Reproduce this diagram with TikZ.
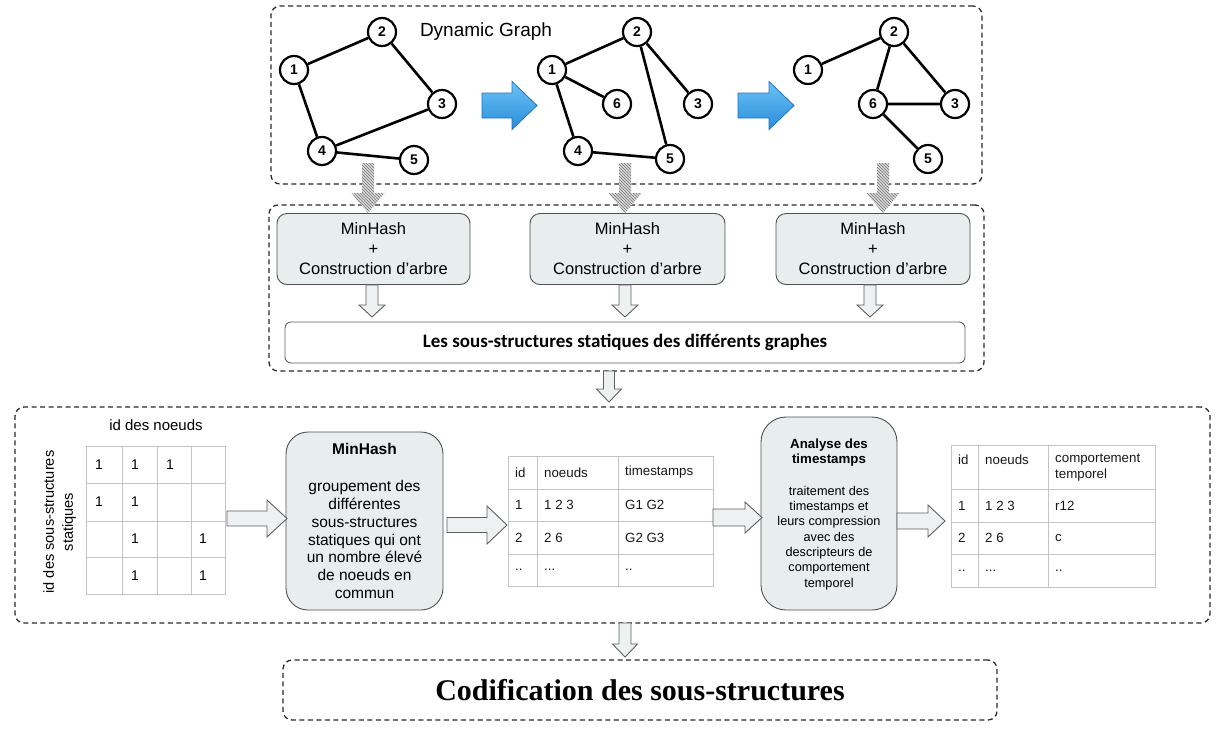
\documentclass[tikz,border=0pt]{standalone}
\usepackage{fontspec}
\setmainfont{Liberation Sans}
\newfontfamily\carl{Carlito}
\newfontfamily\lserif{Liberation Serif}
\usetikzlibrary{patterns,calc}
\definecolor{boxfill}{HTML}{E8EDED}
\definecolor{boxline}{HTML}{505050}
\definecolor{arrfill}{HTML}{EDF1F1}
\definecolor{arrline}{HTML}{606060}
\definecolor{gridc}{HTML}{C4C4C4}
\definecolor{dashc}{HTML}{2A2A2A}
\definecolor{blueA}{HTML}{6CC4F4}
\definecolor{blueB}{HTML}{2A8CDA}
\definecolor{blueL}{HTML}{1F74C4}
\newcommand{\blkdown}[6]{%
 \path[#1] let \p1=(#2), \p2=(#3) in
 (\x2-#4pt,\y1) -- (\x2+#4pt,\y1) -- (\x2+#4pt,\y2+#6pt) -- (\x2+#5pt,\y2+#6pt)
 -- (\x2,\y2) -- (\x2-#5pt,\y2+#6pt) -- (\x2-#4pt,\y2+#6pt) -- cycle;}
\newcommand{\blkright}[6]{%
 \path[#1] let \p1=(#2), \p2=(#3) in
 (\x1,\y1+#4pt) -- (\x2-#6pt,\y1+#4pt) -- (\x2-#6pt,\y1+#5pt) -- (\x2,\y1)
 -- (\x2-#6pt,\y1-#5pt) -- (\x2-#6pt,\y1-#4pt) -- (\x1,\y1-#4pt) -- cycle;}
\tikzset{
 gnode/.style={circle, draw, line width=2.2pt, minimum size=28pt, inner sep=0pt,
   font=\bfseries\fontsize{14}{14}\selectfont, fill=white},
 gedge/.style={line width=2.6pt},
 dbox/.style={draw=dashc, dash pattern=on 5pt off 3.5pt, line width=1.3pt, rounded corners=9pt},
 mhbox/.style={draw=boxline, fill=boxfill, rounded corners=10pt, line width=0.9pt, inner sep=0pt},
 bigbox/.style={draw=boxline, fill=boxfill, line width=0.9pt, inner sep=0pt},
 whitearrow/.style={fill=arrfill, draw=arrline, line width=0.9pt},
 hatcharrow/.style={preaction={fill=gray!28}, pattern=north west lines, pattern color=black!55},
 bluearrow/.style={top color=blueA, bottom color=blueB, draw=blueL, line width=0.8pt},
 tab/.style={draw=gridc, line width=0.8pt, inner sep=0pt},
 tline/.style={draw=gridc, line width=0.8pt},
 ttext/.style={font=\fontsize{13.3}{16}\selectfont, anchor=west, inner sep=0pt, text=black!90},
 mtext/.style={font=\fontsize{14}{16}\selectfont, inner sep=0pt},
}
\begin{document}
\begin{tikzpicture}[x=1pt,y=1pt]
\useasboundingbox[fill=white] (0,0) rectangle (1225,-742);
% ---------- top dashed box ----------
\node[dbox, minimum width=711pt, minimum height=178pt, inner sep=0pt] (top) at (626.5,-95) {};
\node[font=\fontsize{19}{19}\selectfont] (dg) at (486,-32) {Dynamic Graph};
% graph 1
\node[gnode] (a1) at (294,-70) {1};
\node[gnode] (a2) at (382,-32) {2};
\node[gnode] (a3) at (442,-104) {3};
\node[gnode] (a4) at (322,-151) {4};
\node[gnode] (a5) at (414,-160) {5};
\draw[gedge] (a1) -- (a2) (a2) -- (a3) (a1) -- (a4) (a4) -- (a3) (a4) -- (a5);
% graph 2
\node[gnode] (b1) at (552,-70) {1};
\node[gnode] (b2) at (637,-32) {2};
\node[gnode] (b6) at (617,-104) {6};
\node[gnode] (b3) at (698,-104) {3};
\node[gnode] (b4) at (578,-151) {4};
\node[gnode] (b5) at (670,-159) {5};
\draw[gedge] (b1) -- (b2) (b1) -- (b6) (b1) -- (b4) (b4) -- (b5) (b2) -- (b5) (b2) -- (b3);
% graph 3
\node[gnode] (c1) at (808,-70) {1};
\node[gnode] (c2) at (894,-32) {2};
\node[gnode] (c6) at (873,-104) {6};
\node[gnode] (c3) at (955,-104) {3};
\node[gnode] (c5) at (928,-159) {5};
\draw[gedge] (c1) -- (c2) (c2) -- (c6) (c2) -- (c3) (c6) -- (c3) (c6) -- (c5);
% blue arrows
\coordinate (ba1s) at (482,-105.5); \coordinate (ba1e) at (537,-105.5);
\coordinate (ba2s) at (738,-105.5); \coordinate (ba2e) at (794,-105.5);
\blkright{bluearrow}{ba1s}{ba1e}{12.5}{24}{25}
\blkright{bluearrow}{ba2s}{ba2e}{12.5}{24}{25}
% ---------- second dashed box ----------
\node[dbox, minimum width=715pt, minimum height=166pt, inner sep=0pt] (mid) at (626.5,-288) {};
\node[mhbox, minimum width=193pt, minimum height=71pt, align=center,
  font=\fontsize{16.5}{20}\selectfont] (mc1) at (373.5,-249) {MinHash\\+\\Construction d'arbre};
\node[mhbox, minimum width=195pt, minimum height=71pt, align=center,
  font=\fontsize{16.5}{20}\selectfont] (mc2) at (627.5,-249) {MinHash\\+\\Construction d'arbre};
\node[mhbox, minimum width=194pt, minimum height=71pt, align=center,
  font=\fontsize{16.5}{20}\selectfont] (mc3) at (873,-249) {MinHash\\+\\Construction d'arbre};
\node[draw=arrline, fill=white, line width=0.9pt, rounded corners=6pt, minimum width=680pt,
  minimum height=41pt, inner sep=0pt, font=\carl\bfseries\fontsize{19}{20}\selectfont]
  (lss) at (625,-342.5) {Les sous-structures statiques des différents graphes};
% hatched arrows
\coordinate (h1s) at (368,-163); \coordinate (h1e) at (368,-213);
\coordinate (h2s) at (625,-163); \coordinate (h2e) at (625,-213);
\coordinate (h3s) at (883,-163); \coordinate (h3e) at (883,-213);
\blkdown{hatcharrow}{h1s}{h1e}{6}{16.5}{20}
\blkdown{hatcharrow}{h2s}{h2e}{6}{16.5}{20}
\blkdown{hatcharrow}{h3s}{h3e}{6}{16.5}{20}
% small white arrows
\coordinate (w1e) at (372,-317); \coordinate (w2e) at (625,-317); \coordinate (w3e) at (870,-317);
\blkdown{whitearrow}{mc1.south}{w1e}{6}{13}{12}
\blkdown{whitearrow}{mc2.south}{w2e}{6}{13}{12}
\blkdown{whitearrow}{mc3.south}{w3e}{6}{13}{12}
% arrow to third box
\coordinate (m2s) at (609,-371); \coordinate (m2e) at (609,-402);
\blkdown{whitearrow}{m2s}{m2e}{5.5}{12.5}{13}
% ---------- third dashed box ----------
\node[dbox, minimum width=1195pt, minimum height=216pt, inner sep=0pt] (bot) at (612.5,-515) {};
\node[font=\fontsize{15}{15}\selectfont] (idn) at (156,-425) {id des noeuds};
\node[rotate=90, align=center, font=\fontsize{14.6}{19}\selectfont] (vl) at (59.5,-522)
  {id des sous-structures\\statiques};
% matrix
\node[tab, minimum width=139pt, minimum height=148pt] (mat) at (155.5,-520) {};
\draw[tline] (122,-446) -- (122,-594) (157,-446) -- (157,-594) (191,-446) -- (191,-594)
  (86,-483) -- (225,-483) (86,-521) -- (225,-521) (86,-557) -- (225,-557);
\node[mtext] (m11) at (99,-464.5) {1};
\node[mtext] (m12) at (135,-464.5) {1};
\node[mtext] (m13) at (170,-464.5) {1};
\node[mtext] (m21) at (99,-502) {1};
\node[mtext] (m22) at (135,-502) {1};
\node[mtext] (m32) at (135,-539) {1};
\node[mtext] (m34) at (203,-539) {1};
\node[mtext] (m42) at (135,-575.5) {1};
\node[mtext] (m44) at (203,-575.5) {1};
% MinHash big box
\node[bigbox, rounded corners=22pt, minimum width=157pt, minimum height=178pt] (mhb) at (364.5,-521) {};
\node[font=\bfseries\fontsize{15.5}{16}\selectfont] (mht) at (364.5,-449) {MinHash};
\node[align=center, font=\fontsize{15.5}{17.8}\selectfont] (mhx) at (364.5,-539.5)
  {groupement des\\différentes\\sous-structures\\statiques qui ont\\un nombre élevé\\de noeuds en\\commun};
% table 1
\node[tab, minimum width=205pt, minimum height=130pt] (t1) at (610.5,-521) {};
\draw[tline] (537,-456) -- (537,-586) (618,-456) -- (618,-586)
  (508,-489) -- (713,-489) (508,-521) -- (713,-521) (508,-554) -- (713,-554);
\node[ttext] (t1a) at (515,-472.5) {id};
\node[ttext] (t1b) at (544,-472.5) {noeuds};
\node[ttext] (t1c) at (625,-472.5) {timestamps};
\node[ttext] (t1d) at (515,-505) {1};
\node[ttext] (t1e) at (544,-505) {1 2 3};
\node[ttext] (t1f) at (625,-505) {G1 G2};
\node[ttext] (t1g) at (515,-537.5) {2};
\node[ttext] (t1h) at (544,-537.5) {2 6};
\node[ttext] (t1i) at (625,-537.5) {G2 G3};
\node[ttext] (t1j) at (515,-570) {..};
\node[ttext] (t1k) at (544,-570) {...};
\node[ttext] (t1l) at (625,-570) {..};
% Analyse box
\node[bigbox, rounded corners=25pt, minimum width=136pt, minimum height=193pt] (anb) at (829,-513.5) {};
\node[align=center, font=\bfseries\fontsize{13.3}{15.3}\selectfont] (ant) at (829,-452.5) {Analyse des\\timestamps};
\node[align=center, font=\fontsize{12.7}{15.3}\selectfont] (anx) at (829,-538)
  {traitement des\\timestamps et\\leurs compression\\avec des\\descripteurs de\\comportement\\temporel};
% table 2
\node[tab, minimum width=204pt, minimum height=142pt] (t2) at (1053,-516) {};
\draw[tline] (978,-445) -- (978,-587) (1048,-445) -- (1048,-587)
  (951,-489) -- (1155,-489) (951,-522) -- (1155,-522) (951,-554) -- (1155,-554);
\node[ttext] (t2a) at (958,-460) {id};
\node[ttext] (t2b) at (985,-460) {noeuds};
\node[ttext, align=left] (t2c) at (1055,-468) {comportement\\temporel};
\node[ttext] (t2d) at (958,-505.5) {1};
\node[ttext] (t2e) at (985,-505.5) {1 2 3};
\node[ttext] (t2f) at (1055,-505.5) {r12};
\node[ttext] (t2g) at (958,-538) {2};
\node[ttext] (t2h) at (985,-538) {2 6};
\node[ttext] (t2i) at (1055,-538) {c};
\node[ttext] (t2j) at (958,-570.5) {..};
\node[ttext] (t2k) at (985,-570.5) {...};
\node[ttext] (t2l) at (1055,-570.5) {..};
% horizontal arrows
\coordinate (r1s) at (227,-518.5); \coordinate (r1e) at (287,-518.5);
\coordinate (r2s) at (447,-525); \coordinate (r2e) at (507,-525);
\coordinate (r3s) at (713,-517.5); \coordinate (r3e) at (762,-517.5);
\coordinate (r4s) at (897,-521); \coordinate (r4e) at (945,-521);
\blkright{whitearrow}{r1s}{r1e}{7.5}{18.5}{20}
\blkright{whitearrow}{r2s}{r2e}{7.5}{19}{20}
\blkright{whitearrow}{r3s}{r3e}{8.5}{15.5}{17}
\blkright{whitearrow}{r4s}{r4e}{8}{16}{17}
% arrow to codification
\coordinate (m3s) at (625,-623); \coordinate (m3e) at (625,-657);
\blkdown{whitearrow}{m3s}{m3e}{6}{12.5}{13}
% codification box
\node[dbox, minimum width=714pt, minimum height=60pt, inner sep=0pt,
  font=\lserif\bfseries\fontsize{30}{31}\selectfont] (cod) at (640,-690) {Codification des sous-structures};
\end{tikzpicture}
\end{document}
